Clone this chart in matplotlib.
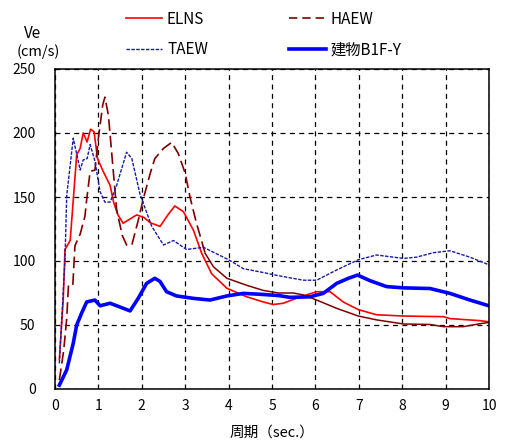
import matplotlib
matplotlib.use('Agg')

import numpy as np
import matplotlib.pyplot as plt
from matplotlib.lines import Line2D

plt.rcParams['font.family'] = ['Noto Sans CJK JP', 'DejaVu Sans']

# period (sec.) and velocity (cm/s)
elns_x = [0.1, 0.19, 0.23, 0.35, 0.5, 0.58, 0.65, 0.74, 0.82, 0.9, 0.98, 1.11, 1.27, 1.35, 1.45, 1.57,
          1.88, 2.05, 2.19, 2.42, 2.6, 2.76, 2.96, 3.19, 3.38, 3.61, 3.96, 4.42, 4.8, 5.03, 5.26, 5.65,
          6.03, 6.34, 6.64, 6.99, 7.41, 8.03, 8.95, 9.1, 9.79, 10.0]
elns_y = [23, 70, 109, 116, 183, 188, 200, 193, 203, 201, 180, 170, 159, 146, 136, 129.5,
          136, 134, 130, 127, 136, 143, 138.5, 124, 106, 90, 78.7, 72, 68, 66, 67, 72,
          76, 76, 68, 62, 58, 57, 56.5, 55, 53.4, 52.5]

haew_x = [0.1, 0.2, 0.27, 0.31, 0.41, 0.46, 0.58, 0.69, 0.73, 0.81, 0.92, 1.0, 1.1, 1.15, 1.23, 1.31,
          1.42, 1.55, 1.65, 1.77, 1.92, 2.03, 2.19, 2.3, 2.5, 2.69, 2.84, 3.0, 3.11, 3.26, 3.46, 3.65,
          3.96, 4.42, 4.8, 5.15, 5.49, 5.72, 6.03, 6.49, 6.99, 7.41, 8.03, 8.64, 8.95, 9.41, 9.79, 10.0]
haew_y = [7, 30, 55, 81, 81, 112, 121, 135, 148, 170, 171, 196, 222, 228, 214, 183,
          140, 120, 112.5, 112.5, 132, 148, 168, 180, 188, 192.7, 184, 168.5, 150, 129.5, 106, 95.5,
          86.5, 81, 77, 75, 75, 73.5, 69.5, 63, 57, 54, 50.8, 50.4, 48.7, 48.7, 51, 52]

taew_x = [0.1, 0.23, 0.27, 0.42, 0.58, 0.65, 0.74, 0.81, 0.92, 1.04, 1.15, 1.27, 1.42, 1.65, 1.77, 1.96,
          2.23, 2.5, 2.73, 3.03, 3.42, 4.0, 4.34, 4.8, 5.15, 5.72, 6.03, 6.49, 6.99, 7.41, 8.03, 8.33,
          8.72, 9.1, 9.56, 10.0]
taew_y = [20, 101, 151, 196, 171, 179, 180, 191, 178, 154, 146, 146, 159, 185, 180, 152,
          127, 112.5, 116, 109, 110.7, 101, 94, 91, 88.5, 85, 85, 93, 101, 104.7, 102, 103,
          106.5, 108, 103, 97]

b1f_x = [0.1, 0.27, 0.42, 0.5, 0.61, 0.73, 0.92, 1.04, 1.27, 1.5, 1.73, 1.92, 2.11, 2.3, 2.42, 2.57,
         2.8, 3.19, 3.57, 3.96, 4.34, 4.73, 5.15, 5.41, 5.87, 6.18, 6.49, 6.76, 6.97, 7.26, 7.64, 8.03,
         8.64, 9.1, 9.56, 10.0]
b1f_y = [3, 15, 35.7, 50, 59, 68, 69.5, 65, 67, 64, 61, 71, 82.5, 86.5, 84, 76,
         72.7, 70.8, 69.5, 72.7, 74.7, 74, 73, 71.6, 72, 74.7, 82.5, 86.5, 89, 84.6, 80, 79,
         78.5, 74.7, 69.5, 65]

labels = ['ELNS', 'HAEW', 'TAEW', '建物B1F-Y']
x_ticks = list(range(0, 11))
y_ticks = [0, 50, 100, 150, 200, 250]

c_elns = '#ff0000'
c_haew = '#800000'
c_taew = '#1a1aa8'
c_b1f = '#0000ff'

fig = plt.figure(figsize=(5.27, 4.41), dpi=100)
ax = fig.add_axes([55 / 527, 1 - 389 / 441, 434 / 527, 320 / 441])

ax.plot(elns_x, elns_y, color=c_elns, lw=1.2, solid_joinstyle='round')
# excel-style dashes: dashed where the points are sparse, looks solid later on
hx = np.array(haew_x)
hy = np.array(haew_y)
split = hx <= 3.46
ax.plot(hx[split], hy[split], color=c_haew, lw=1.2, dashes=(7, 3))
ax.plot(hx[~split | (hx == 3.46)], hy[~split | (hx == 3.46)], color=c_haew, lw=1.1)
ax.plot(taew_x, taew_y, color=c_taew, lw=1.0, dashes=(2.5, 1))
ax.plot(b1f_x, b1f_y, color=c_b1f, lw=2.6, solid_joinstyle='round')

ax.set_xlim(0, 10)
ax.set_ylim(0, 250)
ax.set_xticks(x_ticks)
ax.set_yticks(y_ticks)
ax.tick_params(length=0, labelsize=10)
ax.tick_params(axis='y', pad=14)
ax.tick_params(axis='x', pad=7)
ax.grid(True, color='black', lw=0.9, linestyle=(0, (4, 3.5)))
for s in ax.spines.values():
    s.set_linewidth(1.1)

ax.set_xlabel('周期（sec.）', fontsize=10.5, labelpad=9)
fig.text(33 / 527, 1 - 33 / 441, 'Ve', ha='center', va='center', fontsize=11)
fig.text(38 / 527, 1 - 52 / 441, '(cm/s)', ha='center', va='center', fontsize=10.5)

handles = [
    Line2D([], [], color=c_elns, lw=1.2),
    Line2D([], [], color=c_taew, lw=1.0, dashes=(2.5, 1)),
    Line2D([], [], color=c_haew, lw=1.2, dashes=(5, 3)),
    Line2D([], [], color=c_b1f, lw=2.6),
]
fig.legend(handles, [labels[0], labels[2], labels[1], labels[3]], ncol=2,
           loc='upper left', bbox_to_anchor=(112 / 527, 1 + 3 / 441), frameon=False,
           fontsize=11, handlelength=2.4, handletextpad=0.3, columnspacing=5.3,
           labelspacing=0.88)

fig.savefig('out.png', dpi=100)
